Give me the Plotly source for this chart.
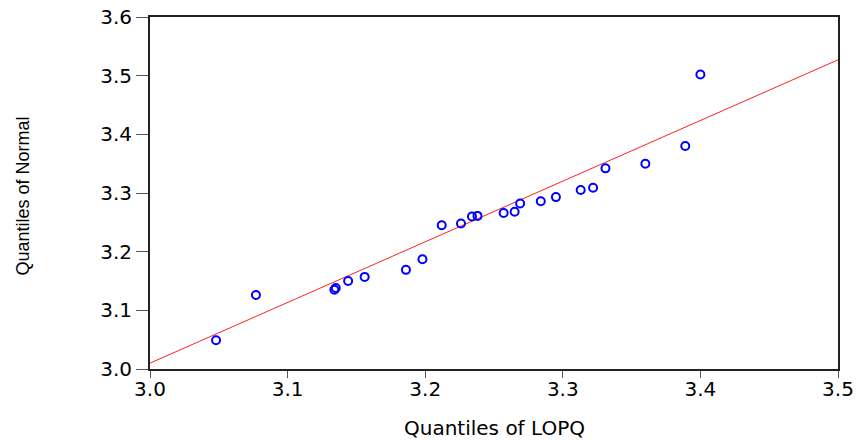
import plotly.graph_objects as go

# Quantiles of LOPQ (x) vs quantiles of Normal (y)
lopq_quantiles = [3.048, 3.077, 3.134, 3.135, 3.144, 3.156, 3.186, 3.198, 3.212,
                  3.226, 3.234, 3.238, 3.257, 3.265, 3.269, 3.284, 3.295, 3.313,
                  3.322, 3.331, 3.360, 3.389, 3.400]
normal_quantiles = [3.049, 3.126, 3.135, 3.138, 3.150, 3.157, 3.169, 3.187, 3.245,
                    3.248, 3.260, 3.261, 3.266, 3.268, 3.282, 3.286, 3.293, 3.305,
                    3.309, 3.342, 3.350, 3.380, 3.502]

# Reference line
fit_x = [3.0, 3.5]
fit_y = [3.010, 3.527]

x_ticks = [3.0, 3.1, 3.2, 3.3, 3.4, 3.5]
x_tick_text = ["3.0", "3.1", "3.2", "3.3", "3.4", "3.5"]
y_ticks = [3.0, 3.1, 3.2, 3.3, 3.4, 3.5, 3.6]
y_tick_text = ["3.0", "3.1", "3.2", "3.3", "3.4", "3.5", "3.6"]

x_title = "Quantiles of LOPQ"
y_title = "Quantiles of Normal"

fig = go.Figure()
fig.add_trace(go.Scatter(x=fit_x, y=fit_y, mode="lines",
                         line=dict(color="#FF2020", width=1), hoverinfo="skip",
                         showlegend=False))
fig.add_trace(go.Scatter(x=lopq_quantiles, y=normal_quantiles, mode="markers",
                         marker=dict(symbol="circle-open", size=8, color="#0000FF",
                                     line=dict(width=2, color="#0000FF")),
                         showlegend=False))

tick_font = dict(family="DejaVu Sans, Arial, sans-serif", size=20, color="#000000")
fig.update_layout(
    width=864, height=443,
    margin=dict(l=150, r=26, t=17, b=74, autoexpand=False),
    paper_bgcolor="white", plot_bgcolor="white",
    xaxis=dict(range=[3.0, 3.5], tickvals=x_ticks, ticktext=x_tick_text,
               ticks="outside", ticklen=7, tickwidth=1, tickcolor="#555555",
               showline=True, linecolor="#222222", linewidth=2, mirror=True,
               showgrid=False, zeroline=False, tickfont=tick_font,
               automargin=False, ticklabeloverflow="allow", ticklabelstandoff=-6),
    yaxis=dict(range=[3.0, 3.6], tickvals=y_ticks, ticktext=y_tick_text,
               ticks="outside", ticklen=12, tickwidth=1, tickcolor="#555555",
               showline=True, linecolor="#222222", linewidth=2, mirror=True,
               showgrid=False, zeroline=False, tickfont=tick_font,
               automargin=False, ticklabeloverflow="allow"),
    annotations=[
        dict(text=x_title, xref="paper", yref="paper", x=0.5, y=-0.168,
             xanchor="center", yanchor="middle", showarrow=False,
             font=dict(family="DejaVu Sans, Arial, sans-serif", size=20, color="#000000")),
        dict(text=y_title, xref="paper", yref="paper", x=-0.186, y=0.49,
             xanchor="center", yanchor="middle", showarrow=False, textangle=-90,
             font=dict(family="Liberation Sans, Arial, sans-serif",
                       size=18, color="#000000")),
    ],
)

fig.write_html("out.html", config={"displayModeBar": False},
               post_script="document.body.style.margin='0';document.body.style.overflow='hidden';")
